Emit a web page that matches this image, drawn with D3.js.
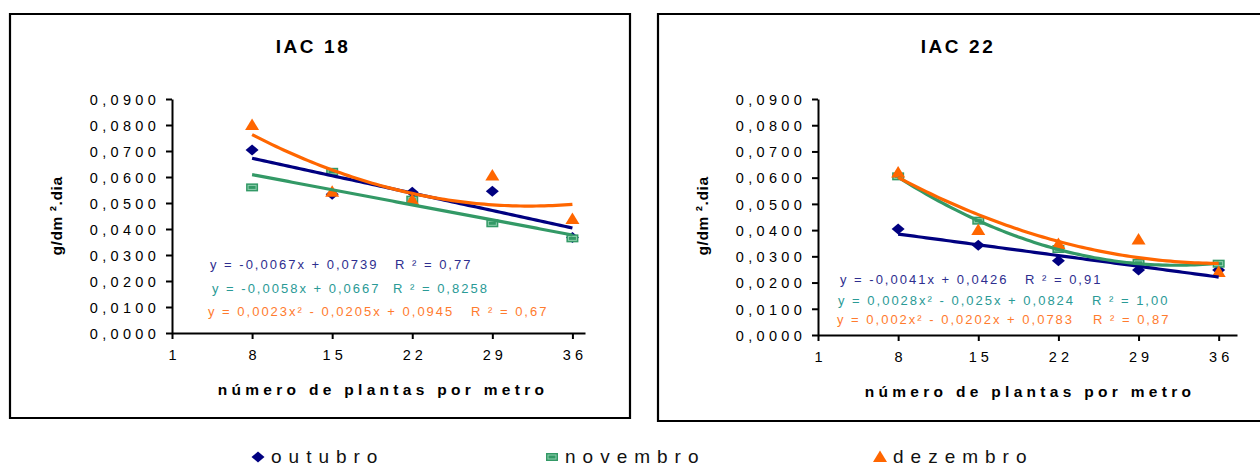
<!DOCTYPE html>
<html>
<head>
<meta charset="utf-8">
<script src="https://cdn.jsdelivr.net/npm/d3@7"></script>
<style>
  body { margin: 0; background: #fff; }
  svg text { font-family: "Liberation Sans", Arial, sans-serif; }
</style>
</head>
<body>
<script>
// x: número de plantas por metro
const plantas = [8, 15, 22, 29, 36];
const xTicks = [1, 8, 15, 22, 29, 36];
const yTicks = [0, 0.01, 0.02, 0.03, 0.04, 0.05, 0.06, 0.07, 0.08, 0.09];
const meses = ["outubro", "novembro", "dezembro"];

// IAC 18 (g/dm².dia)
const iac18Outubro = [0.0704, 0.0534, 0.0541, 0.0545, 0.0367];
const iac18Novembro = [0.0560, 0.0620, 0.0513, 0.0422, 0.0364];
const iac18Dezembro = [0.0800, 0.0543, 0.0512, 0.0606, 0.0438];
// IAC 22
const iac22Outubro = [0.0404, 0.0342, 0.0283, 0.0248, 0.0248];
const iac22Novembro = [0.0605, 0.0436, 0.0328, 0.0275, 0.0272];
const iac22Dezembro = [0.0620, 0.0400, 0.0347, 0.0364, 0.0240];

// trend coefficients [x², x, 1], x = position 1..5
const iac18OutCoef = [0, -0.0067, 0.0739];
const iac18NovCoef = [0, -0.0058, 0.0667];
const iac18DezCoef = [0.0023, -0.0205, 0.0945];
const iac22OutCoef = [0, -0.0041, 0.0426];
const iac22NovCoef = [0.0028, -0.025, 0.0824];
const iac22DezCoef = [0.002, -0.0202, 0.0783];

const iac18Eqs = ["y = -0,0067x + 0,0739", "y = -0,0058x + 0,0667", "y = 0,0023x² - 0,0205x + 0,0945"];
const iac18R2 = ["R ² = 0,77", "R ² = 0,8258", "R ² = 0,67"];
const iac22Eqs = ["y = -0,0041x + 0,0426", "y = 0,0028x² - 0,025x + 0,0824", "y = 0,002x² - 0,0202x + 0,0783"];
const iac22R2 = ["R ² = 0,91", "R ² = 1,00", "R ² = 0,87"];

const colors = ["#000080", "#339966", "#ff6600"];
const eqColors = ["#2e2e8f", "#2a9a96", "#ff7b2e"];

const width = 1260, height = 466;
const svg = d3.select("body").append("svg")
  .attr("width", width)
  .attr("height", height);

function marker(sel, k, color) {
  if (k === 0) {
    sel.append("path").attr("d", "M0,-5.5L6.5,0L0,5.5L-6.5,0Z").attr("fill", color);
  } else if (k === 1) {
    sel.append("rect").attr("x", -6).attr("y", -4).attr("width", 12).attr("height", 8)
      .attr("fill", color);
    sel.append("rect").attr("x", -4).attr("y", -2).attr("width", 8).attr("height", 4)
      .attr("fill", "none").attr("stroke", "#8fcfae").attr("stroke-width", 1);
  } else {
    sel.append("path").attr("d", "M0,-6.5L7,5L-7,5Z").attr("fill", color);
  }
}

function drawPanel(p) {
  const g = svg.append("g");

  // frame
  g.append("path")
    .attr("d", p.frame)
    .attr("fill", "none")
    .attr("stroke", "#000")
    .attr("stroke-width", 2.2);

  const x = d3.scaleLinear().domain([1, p.xMax]).range([p.x0, p.x1]);
  const y = d3.scaleLinear().domain([0, 0.09]).range([p.y0, p.y1]);

  const yAxis = g.append("g")
    .attr("transform", `translate(${p.x0},0)`)
    .call(d3.axisLeft(y).tickValues(yTicks).tickSize(6).tickSizeOuter(0)
      .tickFormat(d => d3.format(".4f")(d).replace(".", ",")));
  yAxis.selectAll("text")
    .attr("x", -12)
    .attr("dy", "0.36em")
    .style("font-size", "14.5px")
    .style("letter-spacing", "4.3px")
    .attr("fill", "#000");

  const xAxis = g.append("g")
    .attr("transform", `translate(0,${p.y0})`)
    .call(d3.axisBottom(x).tickValues(xTicks).tickSize(6).tickSizeOuter(0));
  xAxis.selectAll("text")
    .attr("y", 17)
    .attr("dy", "0.71em")
    .attr("dx", "2px")
    .style("font-size", "14.5px")
    .style("letter-spacing", "4px")
    .attr("fill", "#000");

  g.selectAll(".domain, .tick line").attr("stroke", "#000").attr("stroke-width", 2);

  // titles
  g.append("text")
    .attr("x", p.titleX).attr("y", 53)
    .attr("text-anchor", "middle")
    .style("font-size", "19px").style("font-weight", "bold").style("letter-spacing", "2.6px")
    .text(p.title);

  g.append("text")
    .attr("x", p.xTitleX).attr("y", p.y0 + 62)
    .attr("text-anchor", "middle")
    .style("font-size", "15.5px").style("font-weight", "bold").style("letter-spacing", "4.3px")
    .text("número de plantas por metro");

  g.append("text")
    .attr("transform", `translate(${p.yTitleX},216) rotate(-90)`)
    .attr("text-anchor", "middle")
    .style("font-size", "15.5px").style("font-weight", "bold").style("letter-spacing", "0.6px")
    .text("g/dm ².dia");

  // markers
  p.series.forEach((vals, k) => {
    vals.forEach((v, i) => {
      const m = g.append("g").attr("transform", `translate(${x(plantas[i])},${y(v)})`);
      marker(m, k, colors[k]);
    });
  });

  // trend lines
  const pos = d3.range(1, 5.0001, 0.05);
  const line = d3.line().x(d => x(d[0])).y(d => y(d[1]));
  p.coefs.forEach((c, k) => {
    const pts = pos.map(t => [1 + 7 * t, c[0] * t * t + c[1] * t + c[2]]);
    g.append("path")
      .attr("d", line(pts))
      .attr("fill", "none")
      .attr("stroke", colors[k])
      .attr("stroke-width", 3.2);
  });

  // equations
  p.eqs.forEach((e, k) => {
    g.append("text")
      .attr("x", p.eqX[k]).attr("y", p.eqY[k])
      .style("font-size", "13px").style("letter-spacing", "2px")
      .attr("fill", eqColors[k])
      .text(e);
    g.append("text")
      .attr("x", p.r2X[k]).attr("y", p.eqY[k])
      .style("font-size", "13px").style("letter-spacing", "2px")
      .attr("fill", eqColors[k])
      .text(p.r2[k]);
  });
}

drawPanel({
  frame: "M10,14H630V418H10Z",
  x0: 172, x1: 585, xMax: 37.1, y0: 333, y1: 99,
  title: "IAC 18", titleX: 313, xTitleX: 383, yTitleX: 62,
  series: [iac18Outubro, iac18Novembro, iac18Dezembro],
  coefs: [iac18OutCoef, iac18NovCoef, iac18DezCoef],
  eqs: iac18Eqs, r2: iac18R2,
  eqX: [210, 212, 208], r2X: [395, 393, 471], eqY: [269, 293, 316]
});

drawPanel({
  frame: "M1262,14H658V421H1262",
  x0: 818, x1: 1237, xMax: 37.6, y0: 335, y1: 99,
  title: "IAC 22", titleX: 958, xTitleX: 1030, yTitleX: 708,
  series: [iac22Outubro, iac22Novembro, iac22Dezembro],
  coefs: [iac22OutCoef, iac22NovCoef, iac22DezCoef],
  eqs: iac22Eqs, r2: iac22R2,
  eqX: [840, 838, 837], r2X: [1025, 1092, 1093], eqY: [284, 305, 324]
});

// legend
const legendX = [258, 552, 880];
meses.forEach((m, k) => {
  const lg = svg.append("g").attr("transform", `translate(${legendX[k]},457)`);
  marker(lg, k, colors[k]);
  lg.append("text")
    .attr("x", 13).attr("y", 6)
    .style("font-size", "19px").style("letter-spacing", "7px")
    .attr("fill", "#111")
    .text(m);
});
</script>
</body>
</html>
